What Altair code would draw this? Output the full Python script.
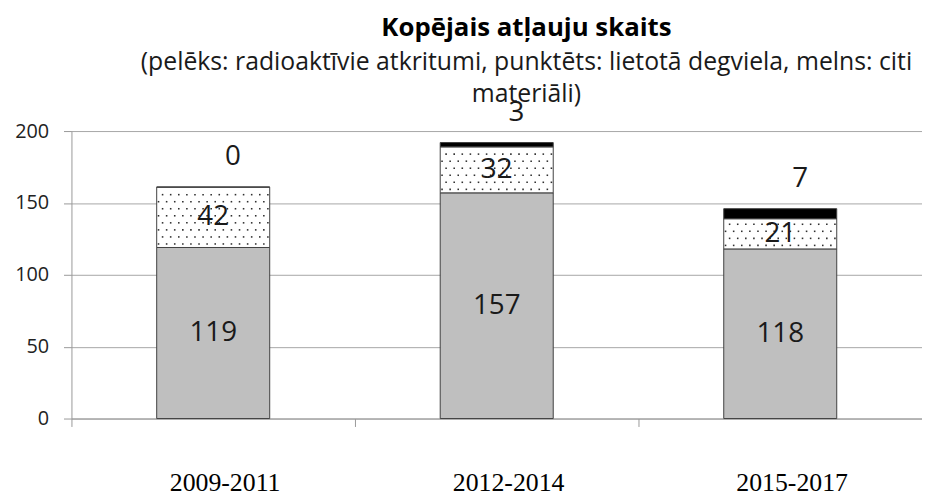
import altair as alt
import pandas as pd

# ---------------- data ----------------
categories = ["2009-2011", "2012-2014", "2015-2017"]
radioactive_waste = [119, 157, 118]   # grey
spent_fuel = [42, 32, 21]             # dotted
other_materials = [0, 3, 7]           # black
segment_names = ["radioaktīvie atkritumi", "lietotā degviela", "citi materiāli"]
segment_colors = ["#BFBFBF", "#FFFFFF", "#000000"]
y_ticks = [0, 50, 100, 150, 200]
title_text = "Kopējais atļauju skaits"
subtitle_line1 = "(pelēks: radioaktīvie atkritumi, punktēts: lietotā degviela, melns: citi"
subtitle_line2 = "materiāli)"

# stacked segments table
rows = []
for i, cat in enumerate(categories):
    base = 0
    for name, val in zip(segment_names, [radioactive_waste[i], spent_fuel[i], other_materials[i]]):
        rows.append({"period": cat, "segment": name, "value": val,
                     "y0": base, "y1": base + val, "ymid": base + val / 2})
        base += val
seg = pd.DataFrame(rows)

# dot texture for the "spent fuel" segment (pattern fill)
ROW_STEP = 4.9
N_SUB = 28
dot_rows = []
for i, cat in enumerate(categories):
    lo = radioactive_waste[i]
    hi = lo + spent_fuel[i]
    r = 0
    yv = lo + ROW_STEP / 2
    while yv < hi - 1:
        for c in range(r % 2, N_SUB, 2):
            dot_rows.append({"period": cat, "col": c, "y": yv})
        r += 1
        yv += ROW_STEP
dots = pd.DataFrame(dot_rows)

# ---------------- scales / axes ----------------
BAR_PX = 114


def xscale():
    return alt.Scale(type="band", domain=categories, paddingInner=0.6, paddingOuter=0.3)


yscale = alt.Scale(domain=[0, 200])

x_axis = alt.Axis(bandPosition=-0.75, tickSize=8, labelOffset=12, labelPadding=65,
                  labelBaseline="alphabetic", labelFont="Liberation Serif", labelFontSize=26,
                  labelColor="#000000", domainColor="#999999", tickColor="#999999",
                  grid=False, labelAngle=0, title=None)
y_axis = alt.Axis(values=y_ticks, tickSize=8, labelPadding=15, labelFont="Open Sans",
                  labelFontSize=20, labelColor="#222222", domainColor="#999999",
                  tickColor="#999999", gridColor="#a6a6a6", grid=True, title=None)

X = alt.X("period:N", scale=xscale(), sort=categories, axis=x_axis)


def Xn():
    return alt.X("period:N", scale=xscale(), sort=categories, axis=None)


bars = alt.Chart(seg).mark_bar(stroke="#404040", strokeWidth=1, width=BAR_PX).encode(
    x=X,
    y=alt.Y("y0:Q", scale=yscale, axis=y_axis),
    y2="y1:Q",
    color=alt.Color("segment:N", scale=alt.Scale(domain=segment_names, range=segment_colors), legend=None),
)

dot_layer = alt.Chart(dots).mark_square(size=2.5, color="#303030", opacity=1).encode(
    x=Xn(),
    xOffset=alt.XOffset("col:O", scale=alt.Scale(domain=list(range(N_SUB)))),
    y=alt.Y("y:Q", scale=yscale),
)

inner_labels = alt.Chart(seg).transform_filter(
    alt.FieldOneOfPredicate(field="segment", oneOf=segment_names[:2])
).mark_text(font="Open Sans", fontSize=28, baseline="middle", color="#1a1a1a").encode(
    x=Xn(), y=alt.Y("ymid:Q", scale=yscale), text="value:Q"
)

top_labels = alt.Chart(seg).transform_filter(
    alt.FieldEqualPredicate(field="segment", equal=segment_names[2])
).mark_text(font="Open Sans", fontSize=28, baseline="alphabetic", dy=-22, dx=20,
            color="#1a1a1a").encode(
    x=Xn(), y=alt.Y("y1:Q", scale=yscale), text="value:Q"
)

one_row = "datum.period == '2009-2011' && datum.y0 == 0"

title = alt.Chart(seg).transform_filter(one_row).mark_text(
    text=title_text, font="Open Sans", fontSize=26, fontWeight="bold", align="center",
    baseline="alphabetic", color="#000000"
).encode(x=alt.value(459), y=alt.value(-96))

sub1 = alt.Chart(seg).transform_filter(one_row).mark_text(
    text=subtitle_line1, font="Open Sans", fontSize=25, align="center",
    baseline="alphabetic", color="#1a1a1a"
).encode(x=alt.value(459), y=alt.value(-62))

sub2 = alt.Chart(seg).transform_filter(one_row).mark_text(
    text=subtitle_line2, font="Open Sans", fontSize=25, align="center",
    baseline="alphabetic", color="#1a1a1a"
).encode(x=alt.value(459), y=alt.value(-29))

chart = alt.layer(bars, dot_layer, inner_labels, top_labels, title, sub1, sub2).resolve_scale(
    x="independent"
).properties(
    width=858, height=290,
    autosize=alt.AutoSizeParams(type="none"),
    padding={"left": 64, "top": 122, "right": 0, "bottom": 76},
    background="white",
).configure_view(stroke=None)

chart.save("out.html", embed_options={"renderer": "svg", "actions": False})
